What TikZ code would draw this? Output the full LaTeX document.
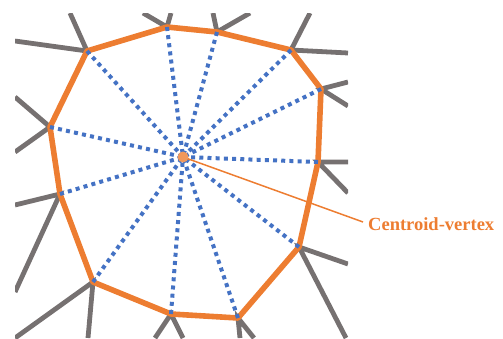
\documentclass[tikz,border=0pt]{standalone}
\usepackage{fontspec}
\setmainfont{Liberation Serif}
\definecolor{cOrange}{HTML}{ED7D31}
\definecolor{cBlue}{HTML}{4472C4}
\definecolor{cGray}{HTML}{767171}
\definecolor{cDot}{HTML}{F0985C}
\begin{document}
\begin{tikzpicture}[x=1pt,y=-1pt,
  grayedge/.style={draw=cGray,line width=4.8pt},
  polyedge/.style={draw=cOrange,line width=5.6pt,line join=round},
  spoke/.style={draw=cBlue,line width=4pt,dash pattern=on 4pt off 4.2pt},
  leader/.style={draw=cOrange,line width=1.5pt}]
\useasboundingbox (0,0) rectangle (503,338);
% vertices
\coordinate (v1) at (87,51);
\coordinate (v2) at (167,27);
\coordinate (v3) at (217,32);
\coordinate (v4) at (291,50);
\coordinate (v5) at (321,89);
\coordinate (v6) at (318,162);
\coordinate (v7) at (299,247);
\coordinate (v8) at (238,318);
\coordinate (v9) at (171,314);
\coordinate (v10) at (93,282);
\coordinate (v11) at (60,194);
\coordinate (v12) at (50,127);
\coordinate (c) at (183,157);
% outer ends
\coordinate (e1a) at (15,41);  \coordinate (e1b) at (70,13);
\coordinate (e2a) at (143,13); \coordinate (e2b) at (171,13);
\coordinate (e3a) at (213,13); \coordinate (e3b) at (250,13);
\coordinate (e4a) at (310,13); \coordinate (e4b) at (348,53);
\coordinate (e5a) at (348,82); \coordinate (e5b) at (348,106);
\coordinate (e6a) at (348,162); \coordinate (e6b) at (348,193);
\coordinate (e7a) at (348,264); \coordinate (e7b) at (346,338);
\coordinate (e8a) at (240,338); \coordinate (e8b) at (254,338);
\coordinate (e9a) at (155,338); \coordinate (e9b) at (183,338);
\coordinate (e10a) at (15,338); \coordinate (e10b) at (88,338);
\coordinate (e11a) at (15,205); \coordinate (e11b) at (15,292);
\coordinate (e12a) at (15,97); \coordinate (e12b) at (15,152);
\begin{scope}
\clip (15,13) rectangle (348,338);
\foreach \i in {1,...,12}{
  \draw[grayedge] (e\i a) -- (v\i) -- (e\i b);
}
\end{scope}
\draw[polyedge] (v1) -- (v2) -- (v3) -- (v4) -- (v5) -- (v6) -- (v7) -- (v8) -- (v9) -- (v10) -- (v11) -- (v12) -- cycle;
\foreach \i in {1,...,12}{
  \draw[spoke] (v\i) -- (c);
}
\node[font=\bfseries\fontsize{18.5}{20}\selectfont,text=cOrange,anchor=west,inner sep=0pt] (lbl) at (368,224) {Centroid-vertex};
\draw[leader] (c) -- (363,222);
\fill[cDot] (c) circle (5.5);
\end{tikzpicture}
\end{document}
